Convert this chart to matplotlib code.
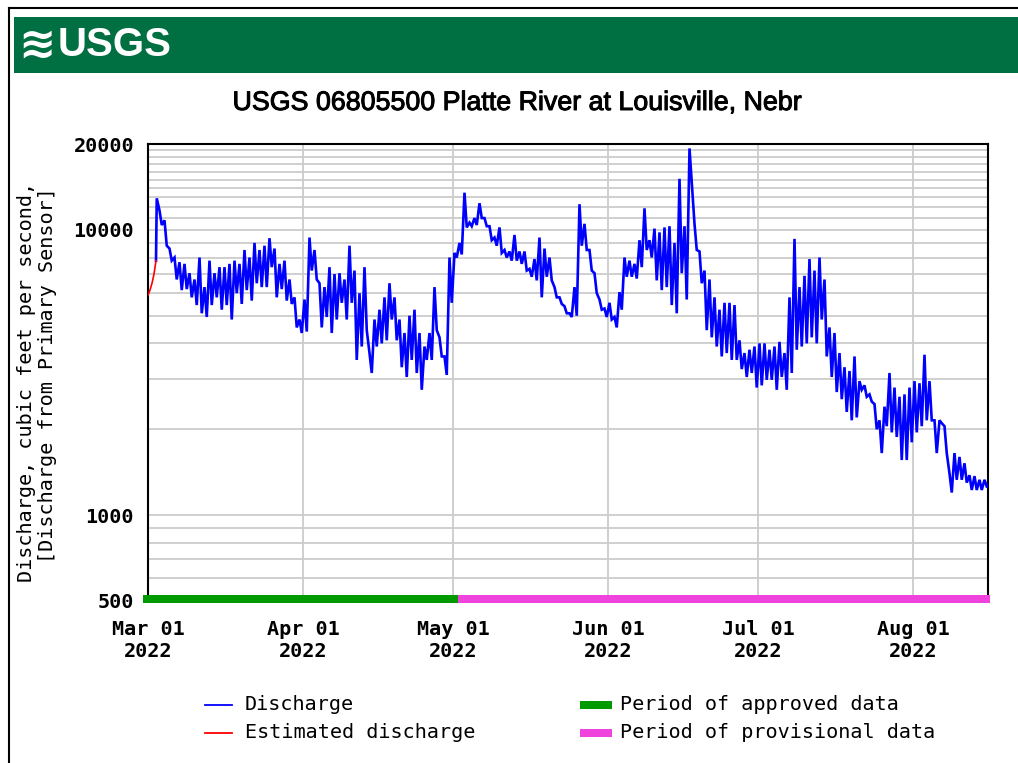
import datetime as dt
import numpy as np
import matplotlib
matplotlib.use("Agg")
import matplotlib.pyplot as plt
import matplotlib.dates as mdates
import matplotlib.transforms as mtransforms
import matplotlib.patheffects as pe
from matplotlib.lines import Line2D
from matplotlib.patches import Rectangle
from matplotlib.ticker import FixedLocator, NullFormatter

# ---------------- data ----------------
title = "USGS 06805500 Platte River at Louisville, Nebr"
ylabel1 = "Discharge, cubic feet per second,"
ylabel2 = "[Discharge from Primary Sensor]"
start_date = dt.datetime(2022, 3, 1)
end_date = dt.datetime(2022, 8, 16)
approved_end = dt.datetime(2022, 5, 2)

# estimated discharge (days since Mar 1, cfs)
est_days = [0.0, 0.4, 0.8, 1.2, 1.6]
est_cfs = [5900, 6150, 6500, 7000, 7800]

# first readings of measured discharge
first_days = [1.6, 1.75]
first_cfs = [7800, 12900]

# daily high / low discharge (cfs) from Mar 3 (day 2) to Aug 15 (day 167)
daily_high = [
    11700, 10800, 8600, 8000, 7700, 7600, 7050, 6700, 8000, 6300,
    7800, 7050, 7400, 7400, 7600, 7800, 7600, 8500, 8000, 9000,
    8500, 8800, 9350, 8600, 7600, 7800, 6700, 5800, 4850, 5700,
    9400, 8500, 6500, 6300, 7400, 7000, 7050, 6700, 8800, 7200,
    6000, 7400, 3700, 4850, 5250, 5800, 6500, 5800, 4850, 4350,
    5000, 5250, 4350, 3900, 4350, 6300, 4200, 3600, 8000, 8300,
    9000, 13500, 10600, 11000, 12400, 11000, 10300, 9400, 10200, 8500,
    8400, 9600, 8400, 8400, 7300, 7900, 9400, 8600, 8000, 6300,
    5800, 5400, 5100, 6300, 12300, 10500, 8500, 7050, 5700, 5300,
    5550, 4950, 6050, 8000, 7800, 7600, 9200, 11900, 9200, 10100,
    9800, 10200, 10300, 9000, 15100, 10300, 19300, 10500, 8400, 7200,
    6700, 5800, 5250, 5550, 5550, 5450, 4100, 3700, 3800, 3900,
    4000, 4000, 3800, 3900, 4050, 3700, 5800, 9300, 6300, 6900,
    7900, 7200, 8000, 6700, 4550, 4350, 3700, 3300, 3200, 3600,
    2950, 2850, 2650, 2450, 2150, 2400, 3150, 2800, 2600, 2650,
    2800, 2950, 2900, 3650, 2950, 2150, 2150, 2050, 1400, 1650,
    1600, 1520, 1380, 1370, 1330, 1330,
]
daily_low = [
    10400, 8800, 7800, 6700, 6150, 6200, 5800, 5450, 5100, 4950,
    5450, 5800, 5250, 5450, 4850, 6000, 5500, 6150, 5650, 6500,
    6300, 6300, 7400, 5800, 6200, 5650, 5500, 4550, 4350, 4400,
    7200, 6700, 4550, 4950, 4350, 4850, 5550, 4850, 5550, 3500,
    3900, 4450, 3150, 3900, 4000, 4100, 4850, 4100, 3300, 3050,
    3500, 3150, 2750, 3500, 3500, 4450, 3600, 3100, 5550, 8000,
    8200, 10200, 10300, 10400, 11000, 10300, 9200, 8800, 8300, 8000,
    7800, 7800, 7600, 7200, 6850, 6650, 5800, 6850, 6650, 5800,
    5500, 5100, 4950, 5000, 8800, 8500, 7200, 6000, 5250, 4950,
    4850, 4550, 5250, 6850, 6850, 6750, 7400, 8500, 8000, 6650,
    6150, 6300, 5450, 5100, 7050, 5700, 14600, 8500, 6500, 4450,
    4200, 3900, 3600, 3700, 3500, 3500, 3250, 3050, 3150, 2800,
    2850, 2980, 2980, 2750, 3050, 2750, 3150, 3800, 3900, 4000,
    4200, 4000, 4850, 3600, 3050, 2700, 2550, 2300, 2150, 2200,
    2750, 2600, 2500, 2000, 1650, 2050, 1950, 1880, 1560, 1560,
    1800, 1950, 2050, 2150, 2150, 1650, 2100, 1650, 1200, 1330,
    1330, 1300, 1225, 1225, 1225, 1260,
]
first_daily_day = 2

yticks = [500, 1000, 10000, 20000]
ytick_labels = ["500", "1000", "10000", "20000"]
ygrid_minor = [600, 700, 800, 900, 2000, 3000, 4000, 5000, 6000, 7000,
               8000, 9000, 11000, 12000, 13000, 14000, 15000, 16000,
               17000, 18000, 19000]
month_ticks = [dt.datetime(2022, m, 1) for m in range(3, 9)]

# ---------------- styling ----------------
W, H = 1018, 763
MONO = "DejaVu Sans Mono"
FS = 14.5
BLUE = "#0000FF"
RED = "#FF0000"
GREEN = "#009900"
PINK = "#EE44DD"
GRID = "#CCCCCC"
USGS_GREEN = "#006F41"


def fx(px):
    return px / W


def fy(py):
    return 1 - py / H


fig = plt.figure(figsize=(W / 100, H / 100), dpi=100)
fig.patch.set_facecolor("white")

# outer frame
fig.add_artist(Line2D([fx(9), fx(9)], [fy(8), 0], color="black", lw=1.5))
fig.add_artist(Line2D([fx(9), 1], [fy(8), fy(8)], color="black", lw=1.5))

# header band
fig.add_artist(Rectangle((fx(14), fy(73)), fx(1018) - fx(14), 56 / H,
                         transform=fig.transFigure, fc=USGS_GREEN, ec="none"))
fig.text(fx(18), fy(45), "≋", color="white", fontsize=32, fontweight="bold",
         family="DejaVu Sans", va="center", ha="left")
fig.text(fx(58), fy(45), "USGS", color="white", fontsize=29, fontweight="bold",
         family=["Liberation Sans Narrow", "Liberation Sans", "DejaVu Sans"],
         va="center", ha="left")

# title
fig.text(fx(516), fy(103), title, fontsize=19.3, family="Liberation Sans",
         ha="center", va="center",
         path_effects=[pe.withStroke(linewidth=0.7, foreground="black")])

# axes
ax = fig.add_axes([fx(148), fy(601), (988 - 148) / W, (601 - 144) / H])
base = mdates.date2num(start_date)

# series: each day's high then low
x_meas = list(first_days)
y_meas = list(first_cfs)
for i, (hi, lo) in enumerate(zip(daily_high, daily_low)):
    d = first_daily_day + i
    x_meas += [d + 0.3, d + 0.75]
    y_meas += [hi, lo]

ax.plot(base + np.array(x_meas), y_meas, color=BLUE, lw=1.9, zorder=3,
        solid_joinstyle="miter")
ax.plot(base + np.array(est_days), est_cfs, color=RED, lw=1.2, zorder=3)

ax.set_yscale("log")
ax.set_ylim(500, 20000)
ax.set_xlim(mdates.date2num(start_date), mdates.date2num(end_date))

ax.yaxis.set_major_locator(FixedLocator(yticks))
ax.set_yticklabels(ytick_labels)
ax.yaxis.set_minor_locator(FixedLocator(ygrid_minor))
ax.yaxis.set_minor_formatter(NullFormatter())
ax.set_xticks([mdates.date2num(m) for m in month_ticks])
ax.xaxis.set_major_formatter(mdates.DateFormatter("%b %d\n%Y"))

ax.grid(True, which="both", axis="y", color=GRID, lw=1.3, zorder=0)
ax.grid(True, which="major", axis="x", color=GRID, lw=1.3, zorder=0)
ax.set_axisbelow(True)
ax.tick_params(which="both", length=0)
ax.tick_params(axis="y", pad=10)
ax.tick_params(axis="x", pad=14)
for lab in ax.get_yticklabels() + ax.get_xticklabels():
    lab.set_family(MONO)
    lab.set_fontweight("bold")
    lab.set_fontsize(FS)
for sp in ax.spines.values():
    sp.set_color("black")
    sp.set_linewidth(1.5)

# approval periods bar along the bottom
trans = mtransforms.blended_transform_factory(ax.transData, ax.transAxes)
bar_y0 = -2 / 457
bar_h = 8 / 457
ax.add_patch(Rectangle((base - 1, bar_y0), mdates.date2num(approved_end) - base + 1,
                       bar_h, transform=trans, fc=GREEN, ec="none",
                       clip_on=False, zorder=5))
ax.add_patch(Rectangle((mdates.date2num(approved_end), bar_y0),
                       mdates.date2num(end_date) - mdates.date2num(approved_end) + 0.3,
                       bar_h, transform=trans, fc=PINK, ec="none",
                       clip_on=False, zorder=5))

# y label (two lines)
fig.text(fx(27), fy(382), ylabel1, rotation=90, family=MONO, fontsize=FS,
         ha="center", va="center")
fig.text(fx(48), fy(375), ylabel2, rotation=90, family=MONO, fontsize=FS,
         ha="center", va="center")

# legend
fig.add_artist(Line2D([fx(205), fx(232)], [fy(705), fy(705)], color=BLUE, lw=1.3))
fig.add_artist(Line2D([fx(205), fx(232)], [fy(733), fy(733)], color=RED, lw=1.3))
fig.text(fx(245), fy(705), "Discharge", family=MONO, fontsize=FS, va="center")
fig.text(fx(245), fy(733), "Estimated discharge", family=MONO, fontsize=FS, va="center")
fig.add_artist(Rectangle((fx(580), fy(709)), 32 / W, 8 / H, transform=fig.transFigure,
                         fc=GREEN, ec="none"))
fig.add_artist(Rectangle((fx(580), fy(737)), 32 / W, 8 / H, transform=fig.transFigure,
                         fc=PINK, ec="none"))
fig.text(fx(620), fy(705), "Period of approved data", family=MONO, fontsize=FS, va="center")
fig.text(fx(620), fy(733), "Period of provisional data", family=MONO, fontsize=FS, va="center")

fig.savefig("out.png", dpi=100, facecolor="white")
